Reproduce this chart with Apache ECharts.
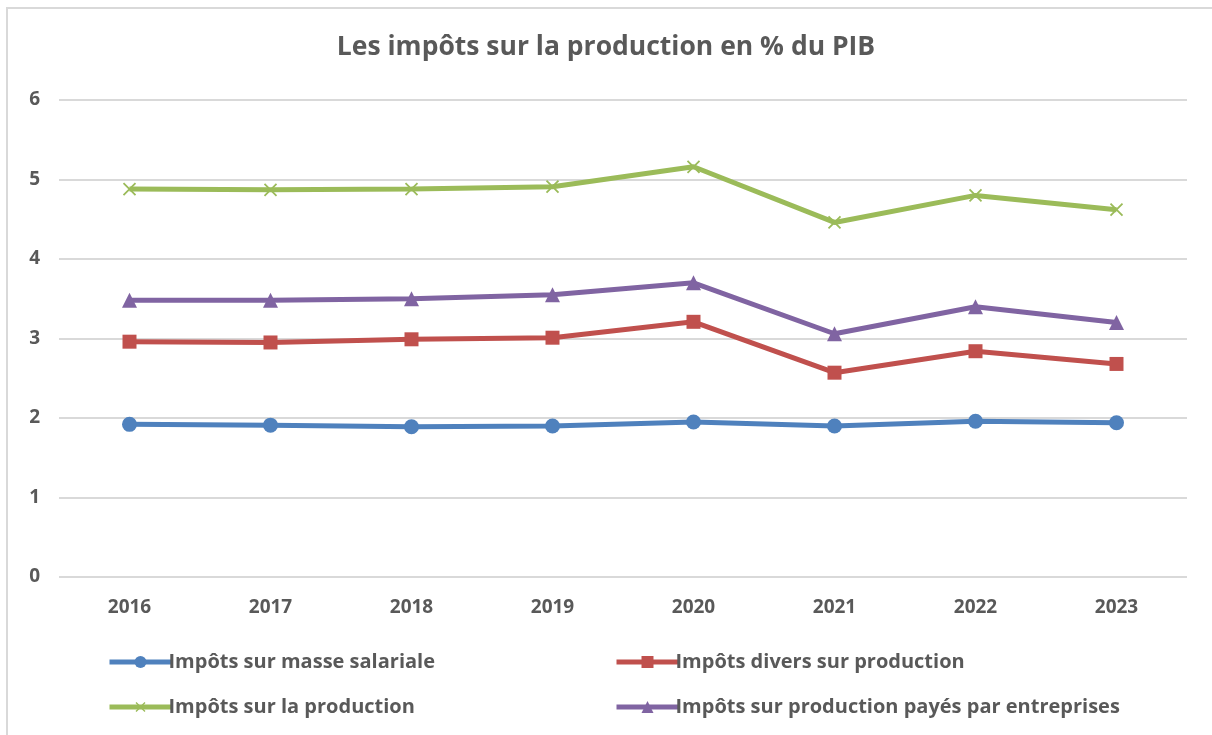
<!DOCTYPE html>
<html>
<head>
<meta charset="utf-8">
<script src="https://cdn.jsdelivr.net/npm/echarts@6/dist/echarts.min.js"></script>
<style>html,body{margin:0;padding:0;background:#fff}#c{width:1212px;height:735px}</style>
</head>
<body>
<div id="c"></div>
<script>
const categories = ['2016','2017','2018','2019','2020','2021','2022','2023'];
const masseSalariale = [1.92, 1.91, 1.89, 1.90, 1.95, 1.90, 1.96, 1.94];
const diversProduction = [2.96, 2.95, 2.99, 3.01, 3.21, 2.57, 2.84, 2.68];
const impotsProduction = [4.88, 4.87, 4.88, 4.91, 5.16, 4.46, 4.80, 4.62];
const payesEntreprises = [3.48, 3.48, 3.50, 3.55, 3.70, 3.06, 3.40, 3.20];
const yTicks = [0, 1, 2, 3, 4, 5, 6];

const names = ['Impôts sur masse salariale','Impôts divers sur production','Impôts sur la production','Impôts sur production payés par entreprises'];
const colors = ['#4F81BD','#C0504D','#9BBB59','#8064A2'];
const symbols = ['circle','rect','image://data:image/svg+xml;utf8,' + encodeURIComponent('<svg xmlns="http://www.w3.org/2000/svg" width="16" height="16"><path d="M2 2L14 14M14 2L2 14" stroke="#9BBB59" stroke-width="1.8"/></svg>'),'triangle'];
const sizes = [15, 14, 16, 15];
const datas = [masseSalariale, diversProduction, impotsProduction, payesEntreprises];
const font = '"Open Sans", "Noto Sans", sans-serif';
const legendPos = [[102,647],[609,647],[102,692],[609,692]];

const chart = echarts.init(document.getElementById('c'), null, {renderer:'canvas'});
chart.setOption({
  animation: false,
  backgroundColor: '#fff',
  title: {
    text: 'Les impôts sur la production en % du PIB',
    left: 'center', top: 29,
    textStyle: {fontFamily: font, fontSize: 26.5, fontWeight: 'bold', color: '#595959'}
  },
  graphic: [{type:'rect', shape:{x:7, y:8, width:1400, height:900}, style:{fill:'none', stroke:'#d9d9d9', lineWidth:2}, silent:true}],
  grid: {left: 59, right: 25, top: 100, bottom: 158, containLabel: false},
  legend: names.map((n,i) => ({
    data: [n], left: legendPos[i][0], top: legendPos[i][1],
    itemWidth: 62, itemHeight: 15, itemGap: 0,
    lineStyle: {width: 5},
    textStyle: {fontFamily: font, fontSize: 20, fontWeight: 'bold', color: '#595959', padding:[0,0,0,-8]}
  })),
  xAxis: {
    type: 'category', data: categories, boundaryGap: true,
    axisLine: {show: false}, axisTick: {show: false},
    axisLabel: {fontFamily: font, fontSize: 19, fontWeight: 'bold', color: '#595959', margin: 21}
  },
  yAxis: {
    type: 'value', min: yTicks[0], max: yTicks[yTicks.length-1], interval: 1,
    axisLine: {show:false}, axisTick:{show:false},
    axisLabel: {fontFamily: font, fontSize: 19, fontWeight: 'bold', color: '#595959', margin: 19},
    splitLine: {lineStyle: {color: '#d9d9d9', width: 2}}
  },
  series: names.map((n,i) => ({
    name: n, type: 'line', data: datas[i],
    symbol: symbols[i], symbolSize: sizes[i], showSymbol: true,
    itemStyle: {color: colors[i]},
    lineStyle: {color: colors[i], width: 5},
    z: 3 + i
  }))
});
</script>
</body>
</html>
